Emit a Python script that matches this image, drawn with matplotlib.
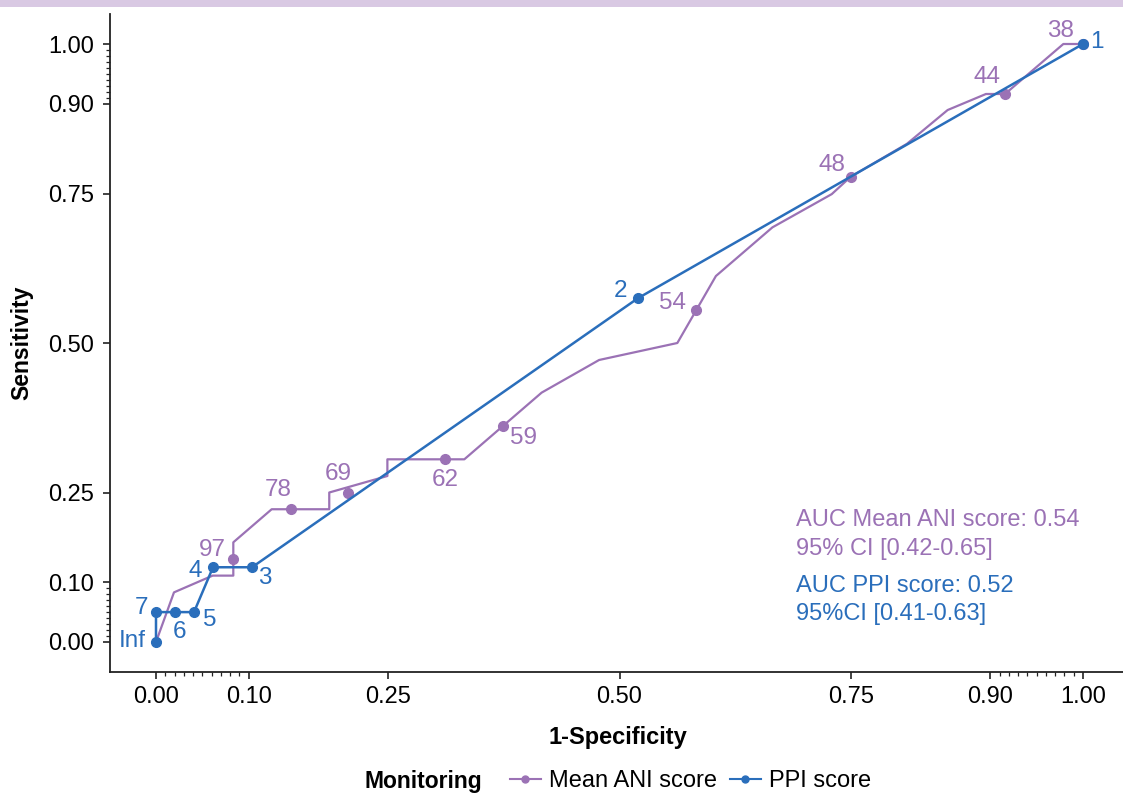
import matplotlib
matplotlib.use('Agg')
import matplotlib.pyplot as plt
from matplotlib.lines import Line2D
from matplotlib.patches import Rectangle

plt.rcParams['font.family'] = ['Liberation Sans', 'DejaVu Sans']

# ---------------- data ----------------
# Mean ANI score ROC curve (1-specificity, sensitivity)
ani_fpr = [0.0, 0.0194, 0.0611, 0.0834, 0.0834, 0.1248, 0.1869, 0.1869, 0.2496,
           0.2496, 0.3326, 0.4160, 0.4780, 0.5624, 0.6040, 0.6650, 0.7290, 0.7494,
           0.8100, 0.8540, 0.8953, 0.9159, 0.9788, 1.0]
ani_tpr = [0.0, 0.083, 0.111, 0.111, 0.1667, 0.222, 0.222, 0.25, 0.2776,
           0.3055, 0.3055, 0.417, 0.4716, 0.500, 0.612, 0.6934, 0.749, 0.778,
           0.833, 0.8896, 0.9164, 0.9164, 1.0, 1.0]
# labelled cut-offs on the Mean ANI curve
ani_pt_fpr = [0.0834, 0.1453, 0.2075, 0.3117, 0.3743, 0.5825, 0.7494, 0.9159, 1.0]
ani_pt_tpr = [0.138, 0.222, 0.250, 0.3055, 0.361, 0.555, 0.778, 0.9164, 1.0]
ani_pt_lab = ['97', '78', '69', '62', '59', '54', '48', '44', '38']

# PPI score ROC curve with cut-offs
ppi_fpr = [0.0, 0.0, 0.0205, 0.041, 0.0615, 0.1036, 0.520, 1.0]
ppi_tpr = [0.0, 0.05, 0.05, 0.05, 0.125, 0.125, 0.575, 1.0]
ppi_lab = ['Inf', '7', '6', '5', '4', '3', '2', '1']

xticks = [0.0, 0.10, 0.25, 0.50, 0.75, 0.90, 1.00]
xtick_labels = ['0.00', '0.10', '0.25', '0.50', '0.75', '0.90', '1.00']
minor_ticks = [0.01, 0.02, 0.03, 0.04, 0.05, 0.06, 0.07, 0.08, 0.09,
               0.91, 0.92, 0.93, 0.94, 0.95, 0.96, 0.97, 0.98, 0.99]

auc_ani_lines = ['AUC Mean ANI score: 0.54', '95% CI [0.42-0.65]']
auc_ppi_lines = ['AUC PPI score: 0.52', '95%CI [0.41-0.63]']

# ---------------- style ----------------
PURPLE = '#9B72B5'
BLUE = '#2A6EBB'
BAND = '#D9C9E3'

# label offsets in pixels (dx right, dy up)
ani_off = [(-21, 9), (-13, 19), (-10, 18), (0, -21), (21, -12), (-23, 7), (-19, 12), (-18, 17), (-23, 13)]
ppi_off = [(-24, 1), (-14, 4), (4, -20), (16, -8), (-18, -4), (13, -11), (-18, 7), (14, 2)]

W, H = 1123, 793
fig = plt.figure(figsize=(W / 100, H / 100), dpi=100)
ax = fig.add_axes([109.65 / W, (H - 671.9) / H, 1019.7 / W, 657.8 / H])
ax.set_xlim(-0.05, 1.05)
ax.set_ylim(-0.05, 1.05)

fig.add_artist(Rectangle((0, 1 - 7 / H), 1, 7 / H, transform=fig.transFigure,
                         color=BAND, zorder=0, lw=0))

ax.plot(ani_fpr, ani_tpr, color=PURPLE, lw=1.6, zorder=2)
ax.plot(ani_pt_fpr, ani_pt_tpr, 'o', color=PURPLE, ms=7, zorder=2)
ax.plot(ppi_fpr, ppi_tpr, '-o', color=BLUE, lw=1.8, ms=7, zorder=3)

for x, y, t, o in zip(ani_pt_fpr, ani_pt_tpr, ani_pt_lab, ani_off):
    ax.annotate(t, (x, y), xytext=o, textcoords='offset pixels', ha='center',
                va='center', color=PURPLE, fontsize=17.5, zorder=4)
for x, y, t, o in zip(ppi_fpr, ppi_tpr, ppi_lab, ppi_off):
    ax.annotate(t, (x, y), xytext=o, textcoords='offset pixels', ha='center',
                va='center', color=BLUE, fontsize=17.5, zorder=4)

# AUC annotation (baselines in figure pixels)
for txt, yb in zip(auc_ani_lines, [526, 555.5]):
    fig.text(796 / W, 1 - yb / H, txt, color=PURPLE, fontsize=17, va='baseline', ha='left')
for txt, yb in zip(auc_ppi_lines, [591.5, 620]):
    fig.text(796 / W, 1 - yb / H, txt, color=BLUE, fontsize=17, va='baseline', ha='left')

for s in ['top', 'right']:
    ax.spines[s].set_visible(False)
for s in ['left', 'bottom']:
    ax.spines[s].set_linewidth(1.3)
    ax.spines[s].set_color('#222222')

ax.set_xticks(xticks)
ax.set_xticklabels(xtick_labels)
ax.set_yticks(xticks)
ax.set_yticklabels(xtick_labels)
ax.set_xticks(minor_ticks, minor=True)
ax.set_yticks(minor_ticks, minor=True)
ax.tick_params(which='major', length=5, width=1.2, color='#222222', labelsize=17,
               labelcolor='black')
ax.tick_params(axis='x', which='major', pad=5.5)
ax.tick_params(axis='y', which='major', pad=6.5)
ax.tick_params(which='minor', length=3, width=0.9, color='#222222')

fig.text(618 / W, 1 - 744 / H, '1-Specificity', fontsize=17, fontweight='bold',
         ha='center', va='baseline')
fig.text(22 / W, 1 - 343 / H, 'Sensitivity', fontsize=16.5, fontweight='bold',
         ha='center', va='center', rotation=90)

# legend
fig.text(364 / W, 1 - 788 / H, 'Monitoring', fontsize=16.5, fontweight='bold',
         ha='left', va='baseline')
handles = [Line2D([], [], color=PURPLE, lw=1.5, marker='o', ms=5),
           Line2D([], [], color=BLUE, lw=1.5, marker='o', ms=5)]
fig.legend(handles, ['Mean ANI score', 'PPI score'], ncol=2, loc='center left',
           bbox_to_anchor=(510 / W, 1 - 781 / H), frameon=False, fontsize=17,
           handlelength=1.3, handletextpad=0.35, columnspacing=0.55,
           borderaxespad=0, borderpad=0)

fig.savefig('out.png', dpi=100)
